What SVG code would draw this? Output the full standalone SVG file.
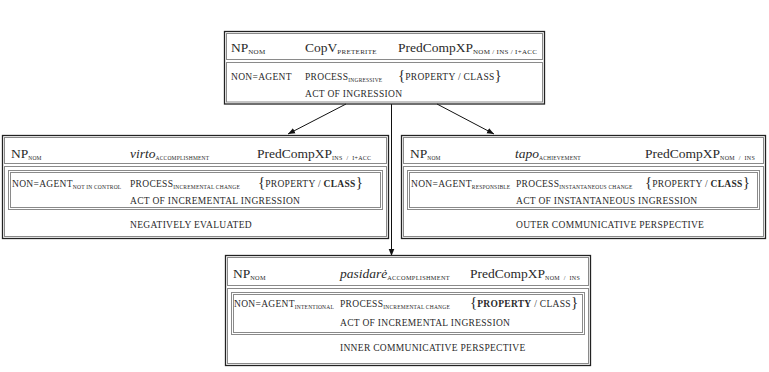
<svg xmlns="http://www.w3.org/2000/svg" width="769" height="372" viewBox="0 0 769 372">
<style>
.h{font-family:"Liberation Serif",serif;font-size:13.5px;fill:#2a2a2a}
.i{font-style:italic}
.sc{font-family:"Liberation Serif",serif;font-size:9.5px;fill:#2a2a2a;letter-spacing:0.3px}
.sub{font-size:5.5px;letter-spacing:0.2px}
.s7{font-size:7px;letter-spacing:0.3px}
.sw{font-size:6px;letter-spacing:0.3px;word-spacing:2px}
.s6{font-size:6.3px;letter-spacing:0.3px}
.br{font-size:15px;letter-spacing:0}
.b{font-weight:bold}
.frame{fill:none;stroke:#222;stroke-width:1.3}
.g{fill:none;stroke:#8a8a8a;stroke-width:1}
.conn{stroke:#111;stroke-width:1;fill:none}
</style>
<defs>
<marker id="ah" viewBox="0 0 10 10" refX="10" refY="5" markerWidth="7" markerHeight="7" orient="auto" markerUnits="userSpaceOnUse">
<path d="M0,1 L10,5 L0,9 Z" fill="#111"/>
</marker>
</defs>
<rect width="769" height="372" fill="#fff"/>
<g id="connectors">
<line class="conn" x1="346" y1="104" x2="288" y2="134" marker-end="url(#ah)"/>
<line class="conn" x1="437" y1="104" x2="494" y2="134" marker-end="url(#ah)"/>
<line class="conn" x1="391.5" y1="104" x2="391.5" y2="256" marker-end="url(#ah)"/>
</g>
<g id="node-copv">
<rect class="frame" x="224.5" y="31.5" width="320" height="72.5"/>
<rect class="g" x="226.5" y="33.5" width="316" height="26"/>
<rect class="g" x="226.5" y="62.5" width="316" height="39.5"/>
<text class="h" x="231" y="52">NP<tspan class="s7" dy="1.5">NOM</tspan></text>
<text class="h" x="305" y="52">CopV<tspan class="s7" dy="1.5">PRETERITE</tspan></text>
<text class="h" x="398" y="52">PredCompXP<tspan class="s7" dy="1.5">NOM / INS / I+ACC</tspan></text>
<text class="sc" x="231" y="80">NON=AGENT</text>
<text class="sc" x="305" y="80">PROCESS<tspan class="sub" dy="1.5">INGRESSIVE</tspan></text>
<text class="sc" x="398" y="80"><tspan class="br">{</tspan>PROPERTY / CLASS<tspan class="br">}</tspan></text>
<text class="sc" x="305" y="97">ACT OF INGRESSION</text>
</g>
<g id="node-virto">
<rect class="frame" x="2.5" y="135.5" width="386" height="103"/>
<rect class="g" x="4.5" y="137.5" width="382" height="26"/>
<rect class="g" x="4.5" y="166.5" width="382" height="70"/>
<rect class="g" x="8.5" y="170.5" width="374" height="39"/>
<rect class="g" x="10.5" y="172.5" width="370" height="35"/>
<text class="h" x="11" y="158">NP<tspan class="sub" dy="1.5">NOM</tspan></text>
<text class="h" x="130" y="158"><tspan class="i">virto</tspan><tspan class="sub" dy="1.5">ACCOMPLISHMENT</tspan></text>
<text class="h" x="257" y="158">PredCompXP<tspan class="sw" dy="1.5">INS / I+ACC</tspan></text>
<text class="sc" x="12" y="187">NON=AGENT<tspan class="sub" dy="1.5">NOT IN CONTROL</tspan></text>
<text class="sc" x="130" y="187">PROCESS<tspan class="sub" dy="1.5">INCREMENTAL CHANGE</tspan></text>
<text class="sc" x="258" y="187"><tspan class="br">{</tspan>PROPERTY / <tspan class="b">CLASS</tspan><tspan class="br">}</tspan></text>
<text class="sc" x="130" y="204">ACT OF INCREMENTAL INGRESSION</text>
<text class="sc" x="130" y="228">NEGATIVELY EVALUATED</text>
</g>
<g id="node-tapo">
<rect class="frame" x="401.5" y="135.5" width="364" height="103"/>
<rect class="g" x="403.5" y="137.5" width="360" height="26"/>
<rect class="g" x="403.5" y="166.5" width="360" height="70"/>
<rect class="g" x="407.5" y="170.5" width="352" height="39"/>
<rect class="g" x="409.5" y="172.5" width="348" height="35"/>
<text class="h" x="410" y="158">NP<tspan class="sub" dy="1.5">NOM</tspan></text>
<text class="h" x="515" y="158"><tspan class="i">tapo</tspan><tspan class="sub" dy="1.5">ACHIEVEMENT</tspan></text>
<text class="h" x="645" y="158">PredCompXP<tspan class="sw" dy="1.5">NOM / INS</tspan></text>
<text class="sc" x="411" y="187">NON=AGENT<tspan class="sub" dy="1.5">RESPONSIBLE</tspan></text>
<text class="sc" x="516" y="187">PROCESS<tspan class="sub" dy="1.5">INSTANTANEOUS CHANGE</tspan></text>
<text class="sc" x="645" y="187"><tspan class="br">{</tspan>PROPERTY / <tspan class="b">CLASS</tspan><tspan class="br">}</tspan></text>
<text class="sc" x="516" y="204">ACT OF INSTANTANEOUS INGRESSION</text>
<text class="sc" x="516" y="228">OUTER COMMUNICATIVE PERSPECTIVE</text>
</g>
<g id="node-pasidare">
<rect class="frame" x="225.5" y="255.5" width="365" height="110"/>
<rect class="g" x="227.5" y="257.5" width="361" height="28"/>
<rect class="g" x="227.5" y="288.5" width="361" height="75"/>
<rect class="g" x="231.5" y="292.5" width="353" height="42"/>
<rect class="g" x="233.5" y="294.5" width="349" height="38"/>
<text class="h" x="233" y="278">NP<tspan class="s6" dy="1.5">NOM</tspan></text>
<text class="h" x="340" y="278"><tspan class="i">pasidarė</tspan><tspan class="s6" dy="1.5">ACCOMPLISHMENT</tspan></text>
<text class="h" x="470" y="278">PredCompXP<tspan class="sw" dy="1.5">NOM / INS</tspan></text>
<text class="sc" x="234" y="307">NON=AGENT<tspan class="sub" dy="1.5">INTENTIONAL</tspan></text>
<text class="sc" x="340" y="307">PROCESS<tspan class="sub" dy="1.5">INCREMENTAL CHANGE</tspan></text>
<text class="sc" x="470" y="307"><tspan class="br">{</tspan><tspan class="b">PROPERTY</tspan> / CLASS<tspan class="br">}</tspan></text>
<text class="sc" x="340" y="326">ACT OF INCREMENTAL INGRESSION</text>
<text class="sc" x="340" y="351">INNER COMMUNICATIVE PERSPECTIVE</text>
</g>
</svg>
